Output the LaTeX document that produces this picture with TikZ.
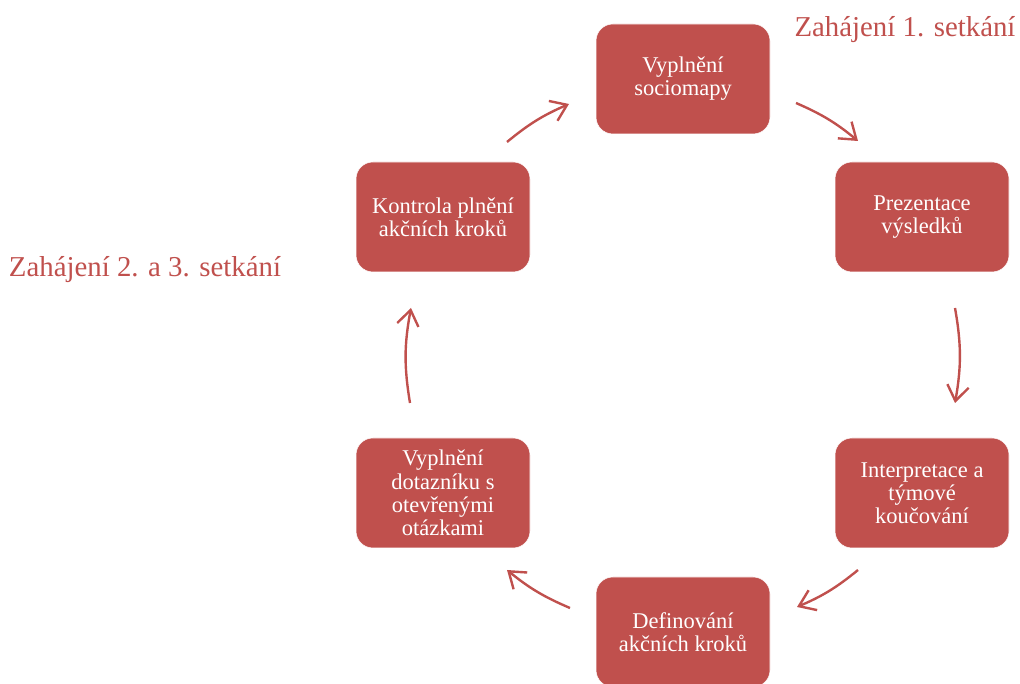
\documentclass[tikz,border=0pt]{standalone}
\usepackage{fontspec}
\setmainfont{Liberation Serif}
\usetikzlibrary{arrows.meta}
\definecolor{cerv}{HTML}{C0504D}
\tikzstyle{krok}=[rectangle,rounded corners=12pt,fill=cerv,draw=white,thin,minimum width=4.35cm,minimum height=2.75cm,align=center,text=white,font=\fontsize{16}{16.5}\selectfont]
\tikzstyle{sip}=[draw=cerv,line width=1.7pt,-{Straight Barb[length=3.8mm,width=5.4mm]}]
\tikzstyle{nadpis}=[text=cerv,font=\fontsize{20.5}{24}\selectfont]

\begin{document}
\begin{tikzpicture}
\useasboundingbox (0,0) rectangle (25.5,17.1);
\node[krok] (soc) at (17.075,15.125) {Vyplnění\\sociomapy};
\node[krok] (prez) at (23.05,11.675) {Prezentace\\výsledků};
\node[krok] (interp) at (23.05,4.775) {Interpretace a\\týmové\\koučování};
\node[krok] (def) at (17.075,1.3) {Definování\\akčních kroků};
\node[krok] (dotaz) at (11.075,4.775) {Vyplnění\\dotazníku s\\otevřenými\\otázkami};
\node[krok] (kontr) at (11.075,11.675) {Kontrola plnění\\akčních kroků};
\node[nadpis] (zah1) at (22.625,16.35) {Zahájení 1. setkání};
\node[nadpis] (zah2) at (3.625,10.35) {Zahájení 2. a 3. setkání};
\coordinate (a1) at (12.675,13.55); \coordinate (b1) at (14.225,14.5);
\coordinate (a2) at (19.9,14.525); \coordinate (b2) at (21.45,13.575);
\coordinate (a3) at (23.875,9.4); \coordinate (b3) at (23.875,7.025);
\coordinate (a4) at (21.45,2.85); \coordinate (b4) at (19.925,1.925);
\coordinate (a5) at (14.25,1.9); \coordinate (b5) at (12.675,2.85);
\coordinate (a6) at (10.25,7.025); \coordinate (b6) at (10.275,9.4);
\draw[sip] (a1) to[bend left=8] (b1);
\draw[sip] (a2) to[bend left=8] (b2);
\draw[sip] (a3) to[bend left=10] (b3);
\draw[sip] (a4) to[bend left=8] (b4);
\draw[sip] (a5) to[bend left=8] (b5);
\draw[sip] (a6) to[bend left=10] (b6);
\end{tikzpicture}
\end{document}
